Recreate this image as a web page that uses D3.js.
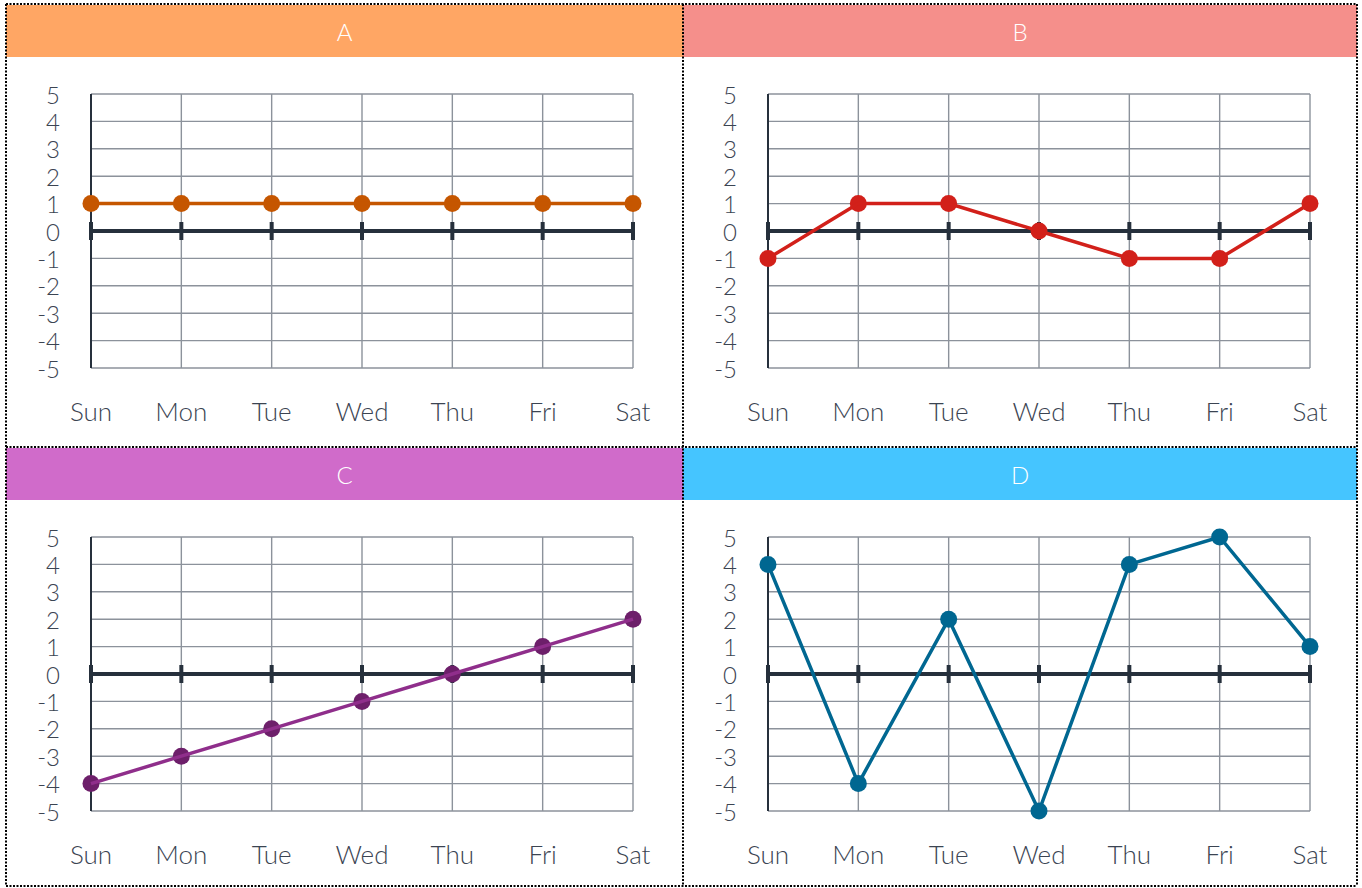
<!DOCTYPE html>
<html>
<head>
<meta charset="utf-8">
<script src="https://cdn.jsdelivr.net/npm/d3@7"></script>
<style>
  html, body { margin: 0; padding: 0; background: #fff; }
  svg { display: block; }
</style>
</head>
<body>
<div id="chart"></div>
<script>
const days = ['Sun', 'Mon', 'Tue', 'Wed', 'Thu', 'Fri', 'Sat']
const yTicks = [5, 4, 3, 2, 1, 0, -1, -2, -3, -4, -5]

const valuesA = [1, 1, 1, 1, 1, 1, 1]
const valuesB = [-1, 1, 1, 0, -1, -1, 1]
const valuesC = [-4, -3, -2, -1, 0, 1, 2]
const valuesD = [4, -4, 2, -5, 4, 5, 1]

const panelTitles = ['A', 'B', 'C', 'D']
const headerColors = ['#ffa664', '#f58f8b', '#d06bca', '#45c5ff']
const lineColors = ['#c55600', '#d2201a', '#8f2e8b', '#006791']
const dotColors = ['#c55600', '#d2201a', '#6d1f6a', '#006791']

const W = 1362, H = 888
const FONT = 'Lato, "Open Sans", sans-serif'

const svg = d3.select('#chart').append('svg')
  .attr('width', W).attr('height', H)

// panel boxes
const panels = [
  { x: 6, y: 5, w: 677, h: 442, values: valuesA },
  { x: 683, y: 5, w: 674, h: 442, values: valuesB },
  { x: 6, y: 448, w: 677, h: 438, values: valuesC },
  { x: 683, y: 448, w: 674, h: 438, values: valuesD },
]

panels.forEach((p, i) => {
  const g = svg.append('g')

  // header
  g.append('rect')
    .attr('x', p.x).attr('y', p.y)
    .attr('width', p.w).attr('height', 52)
    .attr('fill', headerColors[i])
  g.append('text')
    .attr('x', p.x + p.w / 2).attr('y', p.y + 26)
    .attr('text-anchor', 'middle').attr('dominant-baseline', 'central')
    .attr('fill', '#fff').style('font-size', '24px').style('font-weight', 300)
    .attr('font-family', FONT)
    .text(panelTitles[i])

  const x = d3.scalePoint().domain(days).range([p.x + 85, p.x + 627])
  const y = d3.scaleLinear().domain([-5, 5]).range([p.y + 363, p.y + 89])

  // grid
  g.selectAll('.hgrid').data(yTicks).join('line')
    .attr('x1', x('Sun')).attr('x2', x('Sat'))
    .attr('y1', d => y(d)).attr('y2', d => y(d))
    .attr('stroke', '#8c929b').attr('stroke-width', 1.4)
  g.selectAll('.vgrid').data(days).join('line')
    .attr('x1', d => x(d)).attr('x2', d => x(d))
    .attr('y1', y(5)).attr('y2', y(-5))
    .attr('stroke', '#8c929b').attr('stroke-width', 1.4)

  // left axis line
  g.append('line')
    .attr('x1', x('Sun')).attr('x2', x('Sun'))
    .attr('y1', y(5)).attr('y2', y(-5))
    .attr('stroke', '#26303c').attr('stroke-width', 2)

  // y labels
  g.selectAll('.ylab').data(yTicks).join('text')
    .attr('x', p.x + 54).attr('y', d => y(d))
    .attr('text-anchor', 'end').attr('dominant-baseline', 'central')
    .attr('fill', '#3b4452').style('font-size', '24px').style('font-weight', 300)
    .attr('font-family', FONT)
    .text(d => d)

  // x labels
  g.selectAll('.xlab').data(days).join('text')
    .attr('x', d => x(d)).attr('y', p.y + 416)
    .attr('text-anchor', 'middle')
    .attr('fill', '#3b4452').style('font-size', '26px').style('font-weight', 300)
    .attr('font-family', FONT)
    .text(d => d)

  // zero axis with ticks
  g.append('line')
    .attr('x1', x('Sun')).attr('x2', x('Sat'))
    .attr('y1', y(0)).attr('y2', y(0))
    .attr('stroke', '#26303c').attr('stroke-width', 4)
  g.selectAll('.ztick').data(days).join('line')
    .attr('x1', d => x(d)).attr('x2', d => x(d))
    .attr('y1', y(0) - 9).attr('y2', y(0) + 9)
    .attr('stroke', '#26303c').attr('stroke-width', 4)

  // dots
  g.selectAll('.dot').data(p.values).join('circle')
    .attr('cx', (d, j) => x(days[j])).attr('cy', d => y(d))
    .attr('r', 8.5)
    .attr('fill', dotColors[i])

  // line
  const line = d3.line().x((d, j) => x(days[j])).y(d => y(d))
  g.append('path')
    .datum(p.values)
    .attr('d', line)
    .attr('fill', 'none')
    .attr('stroke', lineColors[i]).attr('stroke-width', 3.5)
})

// dotted borders
const borders = [
  [6, 4, 1357, 4], [6, 447, 1357, 447], [6, 886, 1357, 886],
  [6, 4, 6, 886], [683, 4, 683, 886], [1357, 4, 1357, 886],
]
svg.selectAll('.border').data(borders).join('line')
  .attr('x1', d => d[0]).attr('y1', d => d[1])
  .attr('x2', d => d[2]).attr('y2', d => d[3])
  .attr('stroke', '#000').attr('stroke-width', 2)
  .attr('stroke-dasharray', '2 1.5')
</script>
</body>
</html>
